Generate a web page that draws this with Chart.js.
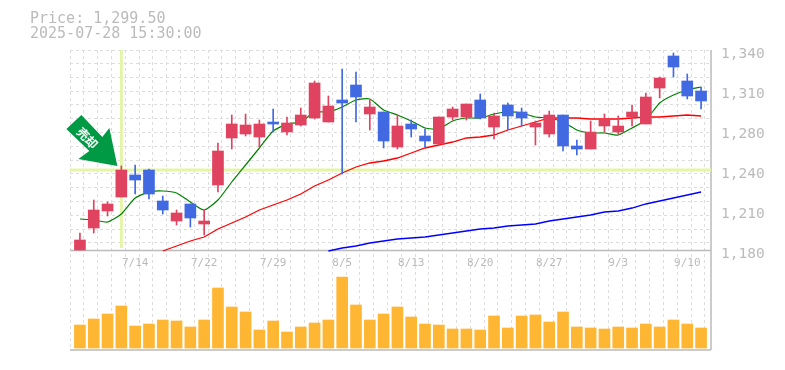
<!DOCTYPE html>
<html>
<head>
<meta charset="utf-8">
<script src="https://cdn.jsdelivr.net/npm/chart.js@4/dist/chart.umd.min.js"></script>
<style>
    body { margin: 0; background: #fff; }
    #wrap { position: relative; width: 785px; height: 370px; }
    #info { position: absolute; left: 30px; top: 11px; font: 15px/15px "DejaVu Sans Mono", monospace; color: #bbb; white-space: pre; }
</style>
</head>
<body>
<div id="wrap">
    <div id="info">Price: 1,299.50
2025-07-28 15:30:00</div>
    <canvas id="chart" width="785" height="370"></canvas>
</div>
<script>
// Daily candles
const opens = [1180,1197.6,1211.2,1222.4,1240,1244,1219.2,1203.2,1216.8,1200.8,1232,1269.6,1272.8,1270.4,1282.4,1274.4,1280,1285.6,1282.4,1300,1312,1288.8,1290.4,1262.4,1280.8,1271.2,1264.8,1286.4,1286.4,1300,1278.4,1296,1290.4,1278.4,1272.8,1288,1263.2,1260.8,1279.2,1274.4,1286.4,1280.8,1309.6,1335.2,1315.2,1307.2];
const closes = [1188,1212,1216.8,1244,1236,1224.8,1212,1209.6,1205.6,1203.2,1259.2,1280.8,1280,1280.8,1280.8,1281.6,1288,1313.6,1295.2,1297.6,1302.4,1294.4,1267.2,1279.2,1276.8,1267.2,1286.4,1292.8,1296.8,1285.6,1287.2,1287.2,1285.6,1281.6,1288,1263.2,1260.8,1274.4,1284.8,1279.2,1290.4,1302.4,1317.6,1326.4,1303.2,1299.2];
const highs = [1193.6,1220,1218.4,1247.2,1248,1244.8,1223.2,1212,1216.8,1212,1265.6,1288,1288.8,1284,1292.8,1286.4,1293.6,1315.2,1303.2,1324.8,1322.4,1300,1290.4,1288,1284,1276.8,1286.4,1294.4,1296.8,1304.8,1289.6,1297.6,1293.6,1283.2,1291.2,1288,1268,1283.2,1288.8,1287.2,1296,1305.6,1318.4,1337.6,1320.8,1310.4];
const lows = [1180,1193.6,1207.2,1222.4,1224.8,1220.8,1208.8,1200,1198.4,1192,1226.4,1260.8,1271.2,1262.4,1274.4,1272,1279.2,1284.8,1282.4,1240.8,1282.4,1276,1261.6,1260.8,1270.4,1262.4,1264.8,1284,1284,1284.8,1268.8,1276,1279.2,1264,1270.4,1259.2,1256,1260.8,1274.4,1272.8,1279.2,1280.8,1301.6,1318.4,1300.8,1292.8];
const volumes = [23,29,34,42,22,24,28,27,21,28,60,41,36,18,27,16,21,25,28,71,43,28,34,41,31,24,23,19,19,18,32,20,32,33,26,36,21,20,19,21,20,24,21,28,24,20];

// Moving averages, the longer ones only enter the view later on
const maShort = [1204.8,1204,1202.4,1208.8,1221.6,1226.4,1227.2,1225.6,1218.4,1212,1220,1234.4,1248,1261.6,1275.2,1280.8,1282.4,1290.4,1290.4,1294.4,1300,1300.8,1292,1288,1283.2,1277.6,1276.8,1283.2,1285.6,1285.6,1288.8,1290.4,1289.6,1286.4,1285.6,1282.4,1276,1273.6,1273.6,1272,1277.6,1284,1297.6,1304,1308,1310.4];
const maMid = [1179.2,1183.2,1187.2,1190.4,1196.8,1201.6,1206.4,1212,1216,1220,1224.8,1231.2,1236,1241.6,1246.4,1249.6,1251.2,1253.6,1257.6,1261.6,1264,1266.4,1269.6,1270.4,1272,1276,1279.2,1282.4,1285.6,1285.6,1285.6,1284.8,1284.8,1284.8,1285.6,1286.4,1286.4,1287.2,1288,1287.2];
const maLong = [1179.2,1181.6,1183.2,1185.6,1187.2,1188.8,1189.6,1190.4,1192,1193.6,1195.2,1196.8,1197.6,1199.2,1200,1200.8,1203.2,1204.8,1206.4,1208,1210.4,1211.2,1213.6,1216.8,1219.2,1221.6,1224,1226.4];
const maMidStart = 6;
const maLongStart = 18;

// Axis labels
const dateLabels = ['7/14','7/22','7/29','8/5','8/13','8/20','8/27','9/3','9/10'];
const dateIndexes = [4,9,14,19,24,29,34,39,44];
const priceLabels = ['1,340','1,310','1,280','1,240','1,210','1,180'];
const priceTicks = [1340,1308,1276,1244,1212,1180];

const signalIndex = 3;
const signalPrice = 1244;

const X_MIN = -0.72, X_MAX = 45.72;
const LABEL_SHIFT = 3.2; // price labels sit under their level

const toPoints = (values, start = 0) => values.map((y, i) => ({ x: i + start, y }));
const candleColor = i => closes[i] >= opens[i] ? '#e0435f' : '#4169e1';

const xGrid = [];
for (let k = 0; k <= 46; k++) xGrid.push(X_MIN + k);
const yGrid = [1340];
for (let v = 1329.2; v > 1180; v -= 11.04) yGrid.push(v);

// Frame: solid lines under the price pane and round the volume pane
const framePlugin = {
    id: 'frame',
    beforeDatasetsDraw(chart) {
        const { ctx, chartArea: a, scales } = chart;
        const mid = Math.round(scales.y.getPixelForValue(1180)) + 0.5;
        ctx.save();
        ctx.strokeStyle = '#bbb';
        ctx.lineWidth = 1.5;
        ctx.beginPath();
        ctx.moveTo(a.left, mid);
        ctx.lineTo(a.right, mid);
        ctx.moveTo(a.left, a.bottom);
        ctx.lineTo(a.right, a.bottom);
        ctx.moveTo(a.right, a.top);
        ctx.lineTo(a.right, a.bottom);
        ctx.stroke();
        ctx.restore();
    }
};

// Green signal arrow, hung on the signal candle
const arrowPlugin = {
    id: 'signalArrow',
    afterDatasetsDraw(chart) {
        const { ctx, scales } = chart;
        const tipX = scales.x.getPixelForValue(signalIndex) - 4;
        const tipY = scales.y.getPixelForValue(highs[signalIndex]);
        const shape = [[0,0],[-39,-7],[-28,-15],[-51,-37],[-36,-51],[-15,-29],[-8,-38]];
        ctx.save();
        ctx.fillStyle = '#009944';
        ctx.beginPath();
        shape.forEach(([dx, dy], i) => {
            if (i === 0) ctx.moveTo(tipX + dx, tipY + dy);
            else ctx.lineTo(tipX + dx, tipY + dy);
        });
        ctx.closePath();
        ctx.fill();
        ctx.translate(tipX - 30, tipY - 28);
        ctx.rotate(Math.PI / 4);
        ctx.fillStyle = '#fff';
        ctx.font = 'bold 12px "Noto Sans CJK JP"';
        ctx.textAlign = 'center';
        ctx.textBaseline = 'middle';
        ctx.fillText('売却', 0, 0);
        ctx.restore();
    }
};

const body = { type: 'bar', xAxisID: 'x', yAxisID: 'y', grouped: false, borderWidth: 0 };
const line = { type: 'line', xAxisID: 'x', yAxisID: 'y', pointRadius: 0, fill: false };

new Chart(document.getElementById('chart'), {
    data: {
        datasets: [
            { ...line, label: 'Signal level', data: [{ x: X_MIN, y: signalPrice }, { x: X_MAX, y: signalPrice }], borderColor: '#e4f5a8', borderWidth: 3, order: 9 },
            { ...line, label: 'Signal day', data: [{ x: signalIndex, y: 1340 }, { x: signalIndex, y: 1181.6 }], borderColor: '#e4f5a8', borderWidth: 3, order: 9 },
            { ...line, label: 'MA long', data: toPoints(maLong, maLongStart), borderColor: '#0000ff', borderWidth: 1.3, order: 8 },
            { ...line, label: 'MA mid', data: toPoints(maMid, maMidStart), borderColor: '#ff0000', borderWidth: 1.3, order: 7 },
            { ...line, label: 'MA short', data: toPoints(maShort), borderColor: '#008000', borderWidth: 1.2, tension: 0.2, order: 6 },
            { ...body, label: 'Wick', data: highs.map((h, i) => ({ x: i, y: [lows[i], h] })), backgroundColor: highs.map((h, i) => candleColor(i)), barThickness: 1, order: 5 },
            { ...body, label: 'Body', data: opens.map((o, i) => ({ x: i, y: [o, closes[i]] })), backgroundColor: opens.map((o, i) => candleColor(i)), barThickness: 11, order: 4 },
            { ...body, label: 'Volume', yAxisID: 'yVol', data: toPoints(volumes), backgroundColor: '#ffb733', barThickness: 11, order: 3 }
        ]
    },
    options: {
        responsive: false,
        animation: false,
        devicePixelRatio: 1,
        layout: { padding: { left: 70, top: 50, bottom: 20, right: 0 } },
        plugins: { legend: { display: false }, tooltip: { enabled: false } },
        scales: {
            x: {
                type: 'linear',
                min: X_MIN,
                max: X_MAX,
                offset: false, // bar datasets switch this on otherwise
                position: { y: 1180 },
                border: { display: false, dash: [3, 3] },
                grid: {
                    offset: false,
                    drawTicks: false,
                    color: ctx => ctx.tick && !dateIndexes.includes(ctx.tick.value) ? '#ddd' : 'transparent'
                },
                afterBuildTicks(axis) {
                    axis.ticks = xGrid.concat(dateIndexes).sort((a, b) => a - b).map(value => ({ value }));
                },
                ticks: {
                    autoSkip: false,
                    maxRotation: 0,
                    padding: 7,
                    color: '#bbb',
                    font: { family: '"DejaVu Sans Mono"', size: 11 },
                    callback: value => {
                        const i = dateIndexes.indexOf(value);
                        return i < 0 ? '' : dateLabels[i];
                    }
                }
            },
            y: {
                position: 'right',
                min: 1100,
                max: 1340,
                border: { display: false, dash: [3, 3] },
                afterFit(axis) { axis.width = 74; },
                grid: {
                    drawTicks: false,
                    color: ctx => ctx.tick && yGrid.includes(ctx.tick.value) ? '#ddd' : 'transparent'
                },
                afterBuildTicks(axis) {
                    const labelled = priceTicks.map(p => p - LABEL_SHIFT);
                    axis.ticks = yGrid.concat(labelled).sort((a, b) => a - b).map(value => ({ value }));
                },
                ticks: {
                    autoSkip: false,
                    padding: 10,
                    color: '#bbb',
                    font: { family: '"DejaVu Sans Mono"', size: 14.5 },
                    callback: value => {
                        const i = priceTicks.findIndex(p => p - LABEL_SHIFT === value);
                        return i < 0 ? '' : priceLabels[i];
                    }
                }
            },
            yVol: { display: false, min: -2, max: 298 }
        }
    },
    plugins: [framePlugin, arrowPlugin]
});
</script>
</body>
</html>
